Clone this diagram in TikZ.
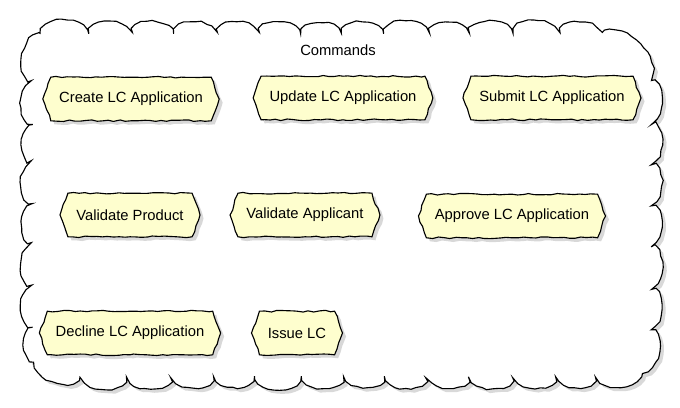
\documentclass[tikz,border=0pt]{standalone}
\usepackage{fontspec}
\setmainfont{Liberation Sans}
\usetikzlibrary{shapes.symbols,shadows,decorations.pathmorphing}

\definecolor{cmdfill}{HTML}{FEFECE}
\pgfmathsetseed{7}

\begin{document}
\begin{tikzpicture}[x=0.025cm, y=0.025cm,
		sketchy/.style={decorate, decoration={random steps, segment length=4pt, amplitude=0.6pt}},
		shade/.style={drop shadow={shadow xshift=2.5pt, shadow yshift=-2.5pt, opacity=0.3}},
		cmd/.style={draw, fill=cmdfill, line width=0.8pt, signal, signal to=west and east, signal pointer angle=140,
			minimum height=31pt, inner xsep=6pt, font=\fontsize{10.5}{12}\selectfont, sketchy, shade}]
		\useasboundingbox (0, 0) rectangle (680, 408);
		% cloud round the commands
		\draw[line width=0.8pt, fill=white, sketchy, shade] (40, 374)
			\foreach \x in {88, 130, 173, 215, 257, 300, 340, 383, 428, 468, 512, 558, 600} {to[bend left=85] (\x, 374)}
			to[bend left=85] (650, 328)
			\foreach \y in {286, 245, 204, 163, 121, 80} {to[bend left=85] (650, \y)}
			to[bend left=85] (642, 36)
			\foreach \x in {597, 557, 515, 470, 428, 385, 345, 302, 255, 215, 173, 128, 82} {to[bend left=85] (\x, 32)}
			to[bend left=85] (35, 46)
			\foreach \y in {80, 121, 163, 203, 245, 283, 325} {to[bend left=85] (33, \y)}
			to[bend left=85] (40, 374) -- cycle;
		\node[font=\fontsize{10.5}{12}\selectfont] (title) at (338, 358) {Commands};
		\path
		node[cmd] (create) at (131, 309) {Create LC Application}
		node[cmd] (update) at (343, 310) {Update LC Application}
		node[cmd] (submit) at (552, 310) {Submit LC Application}
		node[cmd] (vproduct) at (130, 193) {Validate Product}
		node[cmd] (vapplicant) at (305, 193) {Validate Applicant}
		node[cmd] (approve) at (512, 192) {Approve LC Application}
		node[cmd] (decline) at (130, 75) {Decline LC Application}
		node[cmd] (issue) at (297, 75) {Issue LC};
\end{tikzpicture}
\end{document}
